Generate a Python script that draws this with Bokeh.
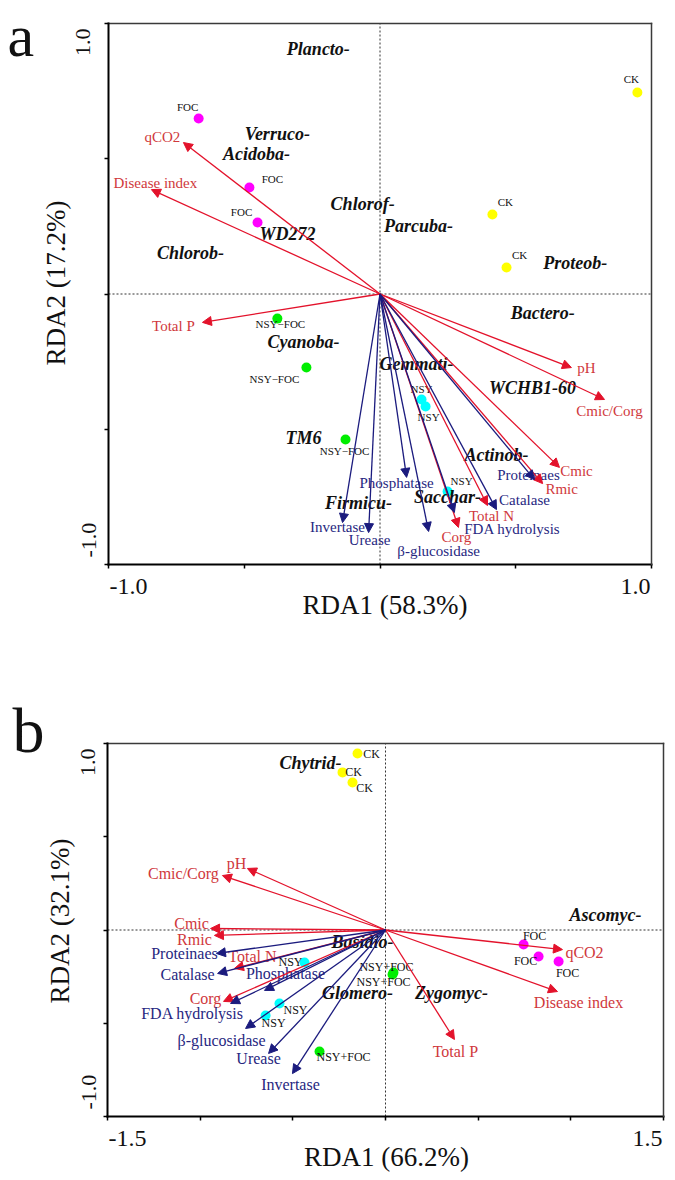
import numpy as np
from bokeh.plotting import figure
from bokeh.models import ColumnDataSource, Arrow, NormalHead, Label, FixedTicker, Range1d, LinearAxis
from bokeh.layouts import column
from bokeh.embed import file_html
from bokeh.resources import INLINE
from bokeh.core.properties import value

# ---------------- DATA: panel a (bacteria) ----------------
a_sample_names = ["FOC", "FOC", "FOC", "CK", "CK", "CK",
                  "NSY−FOC", "NSY−FOC", "NSY−FOC", "NSY", "NSY", "NSY"]
a_sample_x = [-0.668, -0.481, -0.451, 0.948, 0.414, 0.466,
              -0.378, -0.271, -0.127, 0.153, 0.168, 0.249]
a_sample_y = [0.649, 0.394, 0.264, 0.745, 0.294, 0.098,
              -0.091, -0.272, -0.538, -0.390, -0.416, -0.730]

a_env_names = ["qCO2", "Disease index", "Total P", "pH", "Cmic/Corg", "Cmic", "Rmic", "Total N", "Corg"]
a_env_x = [-0.724, -0.842, -0.654, 0.705, 0.827, 0.661, 0.599, 0.396, 0.289]
a_env_y = [0.560, 0.386, -0.105, -0.272, -0.390, -0.641, -0.701, -0.782, -0.863]

a_enz_names = ["Invertase", "Urease", "Phosphatase", "β-glucosidase", "FDA hydrolysis", "Catalase", "Proteinaes"]
a_enz_x = [-0.138, -0.042, 0.098, 0.179, 0.274, 0.429, 0.569]
a_enz_y = [-0.845, -0.882, -0.678, -0.878, -0.808, -0.797, -0.686]

a_species_names = ["Plancto-", "Verruco-", "Acidoba-", "WD272", "Chlorob-", "Chlorof-", "Parcuba-", "Proteob-",
                   "Bactero-", "Cyanoba-", "Gemmati-", "WCHB1-60", "TM6", "Actinob-", "Firmicu-", "Sacchar-"]
a_species_x = [-0.227, -0.378, -0.455, -0.341, -0.698, -0.064, 0.142, 0.719,
               0.599, -0.282, 0.134, 0.562, -0.282, 0.429, -0.079, 0.249]
a_species_y = [0.904, 0.593, 0.519, 0.220, 0.153, 0.331, 0.250, 0.116,
               -0.072, -0.176, -0.257, -0.349, -0.534, -0.597, -0.771, -0.749]

a_xtitle = "RDA1 (58.3%)"
a_ytitle = "RDA2 (17.2%)"
a_xtick_labels = ["-1.0", "1.0"]
a_ytick_labels = ["1.0", "-1.0"]

# ---------------- DATA: panel b (fungi) ----------------
b_sample_names = ["CK", "CK", "CK", "FOC", "FOC", "FOC",
                  "NSY+FOC", "NSY+FOC", "NSY+FOC", "NSY", "NSY", "NSY"]
b_sample_x = [-0.151, -0.232, -0.178, 0.745, 0.826, 0.934,
              0.043, 0.038, -0.356, -0.437, -0.572, -0.647]
b_sample_y = [0.946, 0.845, 0.791, -0.078, -0.142, -0.169,
              -0.228, -0.239, -0.651, -0.174, -0.394, -0.458]

b_env_names = ["pH", "Cmic/Corg", "Cmic", "Rmic", "Total N", "Corg", "qCO2", "Disease index", "Total P"]
b_env_x = [-0.745, -0.880, -0.944, -0.923, -0.815, -0.874, 0.955, 0.928, 0.372]
b_env_y = [0.330, 0.292, 0.008, -0.029, -0.206, -0.383, -0.105, -0.330, -0.587]

b_enz_names = ["Proteinaes", "Catalase", "Phosphatase", "FDA hydrolysis", "β-glucosidase", "Urease", "Invertase"]
b_enz_x = [-0.912, -0.906, -0.653, -0.836, -0.755, -0.631, -0.502]
b_enz_y = [-0.126, -0.233, -0.324, -0.394, -0.528, -0.662, -0.770]

b_species_names = ["Chytrid-", "Ascomyc-", "Basidio-", "Glomero-", "Zygomyc-"]
b_species_x = [-0.405, 1.187, -0.124, -0.151, 0.356]
b_species_y = [0.898, 0.083, -0.067, -0.340, -0.340]

b_xtitle = "RDA1 (66.2%)"
b_ytitle = "RDA2 (32.1%)"
b_xtick_labels = ["-1.5", "1.5"]
b_ytick_labels = ["1.0", "-1.0"]

# ---------------- STYLE / LAYOUT ----------------
SERIF = "Liberation Serif"
RED = "#E3122B"
RED_TXT = "#D0383C"
BLUE = "#1B1B7E"
BLUE_TXT = "#27277F"
INK = "#111111"
GROUP_COLORS = {"FOC": "#FF00FF", "CK": "#FFFF00", "NSY−FOC": "#00EE00",
                "NSY+FOC": "#00EE00", "NSY": "#00FFFF"}

# label offsets in screen px (dx right, dy down) relative to the mark
a_sample_offsets = [(-11, -11), (23, -8), (-16, -11), (-6, -13), (13, -12), (13, -12),
                    (3, 5), (-32, 11), (-1, 11), (0, -10), (3, 10), (14, -10)]
a_env_offsets = {"qCO2": (-21, -6), "Disease index": (4, -7), "Total P": (-29, 4), "pH": (15, 0),
                 "Cmic/Corg": (5, 12), "Cmic": (17, 4), "Rmic": (19, 5), "Total N": (4, 10), "Corg": (-2, 10)}
a_enz_offsets = {"Invertase": (-5, 4), "Urease": (1, 7), "Phosphatase": (-10, 6), "β-glucosidase": (10, 20),
                 "FDA hydrolysis": (58, 16), "Catalase": (28, -10), "Proteinaes": (-6, -5)}

b_sample_offsets = [(14, 0), (11, 0), (12, 6), (11, -9), (-13, 5), (9, 11),
                    (-7, -6), (-9, 7), (24, 6), (-14, 0), (16, 7), (8, 8)]
b_env_offsets = {"pH": (-11, -5), "Cmic/Corg": (-39, -2), "Cmic": (-19, -5), "Rmic": (-20, 4),
                 "Total N": (18, -12), "Corg": (-18, -3), "qCO2": (22, 3), "Disease index": (21, 11),
                 "Total P": (1, 12)}
b_enz_offsets = {"Proteinaes": (-32, 0), "Catalase": (-30, 1), "Phosphatase": (21, -17),
                 "FDA hydrolysis": (-38, 10), "β-glucosidase": (-24, 12), "Urease": (-10, 5),
                 "Invertase": (-2, 11)}


def build(cfg):
    # the plotting box (data extents) sits at a given pixel rectangle inside the canvas;
    # the frame covers the whole canvas so that outside texts are not clipped
    W, H = cfg["width"], cfg["height"]
    (bx0, bx1), (by0, by1) = cfg["box_px"]          # left,right ; top,bottom in px
    (dx0, dx1), (dy0, dy1) = cfg["box_data"]
    sx = (bx1 - bx0) / (dx1 - dx0)
    sy = (by1 - by0) / (dy1 - dy0)
    xr = (dx0 - bx0 / sx, dx1 + (W - bx1) / sx)
    yr = (dy0 - (H - by1) / sy, dy1 + by0 / sy)

    p = figure(width=W, height=H, x_range=Range1d(*xr), y_range=Range1d(*yr),
               output_backend="svg", toolbar_location=None,
               x_axis_location=None, y_axis_location=None, min_border=0)
    p.grid.visible = False
    p.outline_line_color = None
    p.background_fill_color = "white"
    p.border_fill_color = "white"

    def mk_axis(loc, bounds, ticks, width, color, tick_out):
        ax = LinearAxis(fixed_location=loc, bounds=bounds, ticker=FixedTicker(ticks=ticks),
                        axis_line_width=width, axis_line_color=color, axis_line_cap="square",
                        major_tick_out=tick_out, major_tick_in=0, minor_tick_out=0, minor_tick_in=0,
                        major_tick_line_width=1.5, major_tick_line_color="black",
                        major_label_text_color=None, axis_label=None)
        return ax

    p.add_layout(mk_axis(dy0, (dx0, dx1), cfg["xticks"], 2, "black", 4), "below")
    p.add_layout(mk_axis(dx0, (dy0, dy1), cfg["yticks"], 2, "black", 4), "left")
    p.add_layout(mk_axis(dy1, (dx0, dx1), [], 1.5, "#3a3a3a", 0), "above")
    p.add_layout(mk_axis(dx1, (dy0, dy1), [], 1.5, "#3a3a3a", 0), "right")

    # dotted zero lines inside the box
    p.segment(x0=[dx0, 0], y0=[0, dy0], x1=[dx1, 0], y1=[0, dy1],
              line_color="#333333", line_width=1, line_dash="2 2")

    # arrows
    for names, xs, ys, offs, lc, tc in ((cfg["env"][0], cfg["env"][1], cfg["env"][2], cfg["env_off"], RED, RED_TXT),
                                        (cfg["enz"][0], cfg["enz"][1], cfg["enz"][2], cfg["enz_off"], BLUE, BLUE_TXT)):
        src = ColumnDataSource(dict(x0=np.zeros(len(xs)), y0=np.zeros(len(xs)), x=xs, y=ys, name=names,
                                    dx=[offs[n][0] for n in names], dy=[offs[n][1] for n in names]))
        p.add_layout(Arrow(end=NormalHead(size=9, fill_color=lc, line_color=lc, line_width=1),
                           x_start="x0", y_start="y0", x_end="x", y_end="y", source=src,
                           line_color=lc, line_width=1.3))
        p.text(x="x", y="y", text="name", source=src, x_offset="dx", y_offset="dy",
               text_align="center", text_baseline="middle", text_color=tc,
               text_font=value(SERIF), text_font_size=cfg["arrow_font"])

    # samples
    names, xs, ys = cfg["samples"]
    ssrc = ColumnDataSource(dict(x=xs, y=ys, name=names, color=[GROUP_COLORS[n] for n in names],
                                 dx=[o[0] for o in cfg["sample_off"]], dy=[o[1] for o in cfg["sample_off"]]))
    p.scatter(x="x", y="y", source=ssrc, size=10, fill_color="color", line_color=None)
    p.text(x="x", y="y", text="name", source=ssrc, x_offset="dx", y_offset="dy",
           text_align="center", text_baseline="middle", text_color=INK,
           text_font=value(SERIF), text_font_size=cfg["sample_font"])

    # species
    names, xs, ys = cfg["species"]
    p.text(x=xs, y=ys, text=names, text_align="center", text_baseline="middle",
           text_color=INK, text_font=value(SERIF), text_font_style="bold italic",
           text_font_size="18px")

    # tick labels, axis titles, panel letter
    xt, yt = cfg["xtick_labels"], cfg["ytick_labels"]
    ttl = cfg["titles"]
    ydx = cfg["ytick_dx"]
    specs = [
        dict(x=dx0, y=dy0, text=xt[0], text_align="left", x_offset=1, y_offset=-22, text_font_size="24px"),
        dict(x=dx1, y=dy0, text=xt[1], text_align="right", x_offset=-1, y_offset=-22, text_font_size="24px"),
        dict(x=dx0, y=dy1, text=yt[0], text_align="right", angle=np.pi / 2,
             x_offset=ydx[0], y_offset=-5, text_font_size="22px"),
        dict(x=dx0, y=dy0, text=yt[1], text_align="left", angle=np.pi / 2,
             x_offset=ydx[1], y_offset=7, text_font_size="22px"),
        dict(x=0.0, y=dy0, text=ttl[0], text_align="center",
             x_offset=cfg["xtitle_off"][0], y_offset=cfg["xtitle_off"][1], text_font_size="27px"),
        dict(x=dx0, y=0.0, text=ttl[1], text_align="center", angle=np.pi / 2,
             x_offset=cfg["ytitle_off"][0], y_offset=cfg["ytitle_off"][1], text_font_size="27px"),
        dict(x=dx0, y=dy1, text=cfg["letter"], text_align="left",
             x_offset=cfg["letter_off"][0], y_offset=cfg["letter_off"][1],
             text_font_size=cfg["letter_size"]),
    ]
    for s in specs:
        p.add_layout(Label(text_font=SERIF, text_color=INK, text_baseline="alphabetic", **s))
    return p


a_cfg = dict(
    width=675, height=660,
    box_px=((108, 651), (23, 564)), box_data=((-1.0, 1.0), (-1.0, 1.0)),
    xticks=[-1.0, -0.5, 0.0, 0.5, 1.0], yticks=[-1.0, -0.5, 0.0, 0.5, 1.0],
    env=(a_env_names, a_env_x, a_env_y), enz=(a_enz_names, a_enz_x, a_enz_y),
    env_off=a_env_offsets, enz_off=a_enz_offsets,
    samples=(a_sample_names, a_sample_x, a_sample_y), sample_off=a_sample_offsets,
    species=(a_species_names, a_species_x, a_species_y),
    arrow_font="15px", sample_font="11px",
    xtick_labels=a_xtick_labels, ytick_labels=a_ytick_labels, titles=(a_xtitle, a_ytitle),
    ytick_dx=(-26, -20), xtitle_off=(5, -40), ytitle_off=(-53, 11),
    letter="a", letter_off=(-101, -12), letter_size="60px",
)

b_cfg = dict(
    width=675, height=516,
    box_px=((107, 663), (83, 456)), box_data=((-1.5, 1.5), (-1.0, 1.0)),
    xticks=[-1.5, -1.0, -0.5, 0.0, 0.5, 1.0, 1.5], yticks=[-1.0, -0.5, 0.0, 0.5, 1.0],
    env=(b_env_names, b_env_x, b_env_y), enz=(b_enz_names, b_enz_x, b_enz_y),
    env_off=b_env_offsets, enz_off=b_enz_offsets,
    samples=(b_sample_names, b_sample_x, b_sample_y), sample_off=b_sample_offsets,
    species=(b_species_names, b_species_x, b_species_y),
    arrow_font="16px", sample_font="12px",
    xtick_labels=b_xtick_labels, ytick_labels=b_ytick_labels, titles=(b_xtitle, b_ytitle),
    ytick_dx=(-20, -19), xtitle_off=(1, -40), ytitle_off=(-48, 9),
    letter="b", letter_off=(-95, 13), letter_size="64px",
)

pa = build(a_cfg)
pb = build(b_cfg)
layout = column(pa, pb)

open("out.html", "w").write(file_html(layout, INLINE))
